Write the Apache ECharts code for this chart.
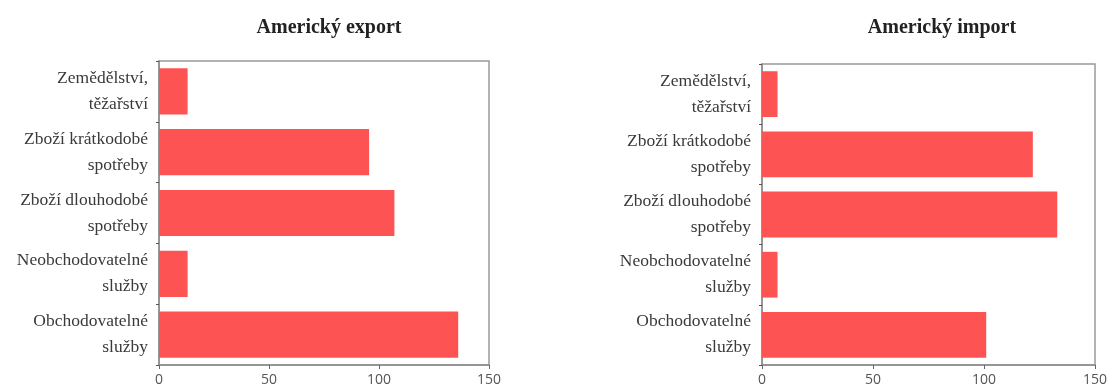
<!DOCTYPE html>
<html>
<head>
<meta charset="utf-8">
<script src="https://cdn.jsdelivr.net/npm/echarts@6/dist/echarts.min.js"></script>
<style>
html,body{margin:0;padding:0;background:#fff;}
#chart{width:1111px;height:389px;}
</style>
</head>
<body>
<div id="chart"></div>
<script>
const categories = ['Zemědělství,\ntěžařství', 'Zboží krátkodobé\nspotřeby', 'Zboží dlouhodobé\nspotřeby', 'Neobchodovatelné\nslužby', 'Obchodovatelné\nslužby'];
const exportValues = [13, 95.5, 107, 13, 136];
const importValues = [7, 122, 133, 7, 101];
const titles = ['Americký export', 'Americký import'];
const xTicks = [0, 50, 100, 150];

const axisGray = '#8c8c8c';
const barColor = '#fd5353';

function xAxis(gi) {
  return {
    type: 'value', gridIndex: gi, min: xTicks[0], max: xTicks[xTicks.length - 1], interval: 50,
    axisLine: { show: true, lineStyle: { color: axisGray, width: 1.5 } },
    axisTick: { show: true, length: 4, lineStyle: { color: '#666' } },
    splitLine: { show: false },
    axisLabel: { color: '#555', fontFamily: 'Open Sans', fontSize: 14, margin: 8 }
  };
}
function yAxis(gi) {
  return {
    type: 'category', gridIndex: gi, data: categories, inverse: true,
    axisLine: { show: true, lineStyle: { color: axisGray, width: 1.5 } },
    axisTick: { show: true, length: 3, lineStyle: { color: '#555' } },
    axisLabel: { color: '#3a3a3a', fontFamily: 'Liberation Serif', fontSize: 17.5, lineHeight: 26, margin: 11, align: 'right' }
  };
}

const chart = echarts.init(document.getElementById('chart'), null, { renderer: 'canvas' });
chart.setOption({
  animation: false,
  backgroundColor: '#ffffff',
  title: [
    { text: titles[0], left: 324, top: 13, textAlign: 'center',
      textStyle: { fontFamily: 'Liberation Serif', fontWeight: 'bold', fontSize: 20, color: '#222' } },
    { text: titles[1], left: 937, top: 13, textAlign: 'center',
      textStyle: { fontFamily: 'Liberation Serif', fontWeight: 'bold', fontSize: 20, color: '#222' } }
  ],
  grid: [
    { left: 159, right: 622, top: 61, bottom: 24, show: true, borderColor: '#999', borderWidth: 1.5, containLabel: false },
    { left: 762, right: 16, top: 64, bottom: 24, show: true, borderColor: '#999', borderWidth: 1.5, containLabel: false }
  ],
  xAxis: [xAxis(0), xAxis(1)],
  yAxis: [yAxis(0), yAxis(1)],
  series: [
    { type: 'bar', xAxisIndex: 0, yAxisIndex: 0, data: exportValues, barCategoryGap: '24%', itemStyle: { color: barColor } },
    { type: 'bar', xAxisIndex: 1, yAxisIndex: 1, data: importValues, barCategoryGap: '24%', itemStyle: { color: barColor } }
  ]
});
</script>
</body>
</html>
